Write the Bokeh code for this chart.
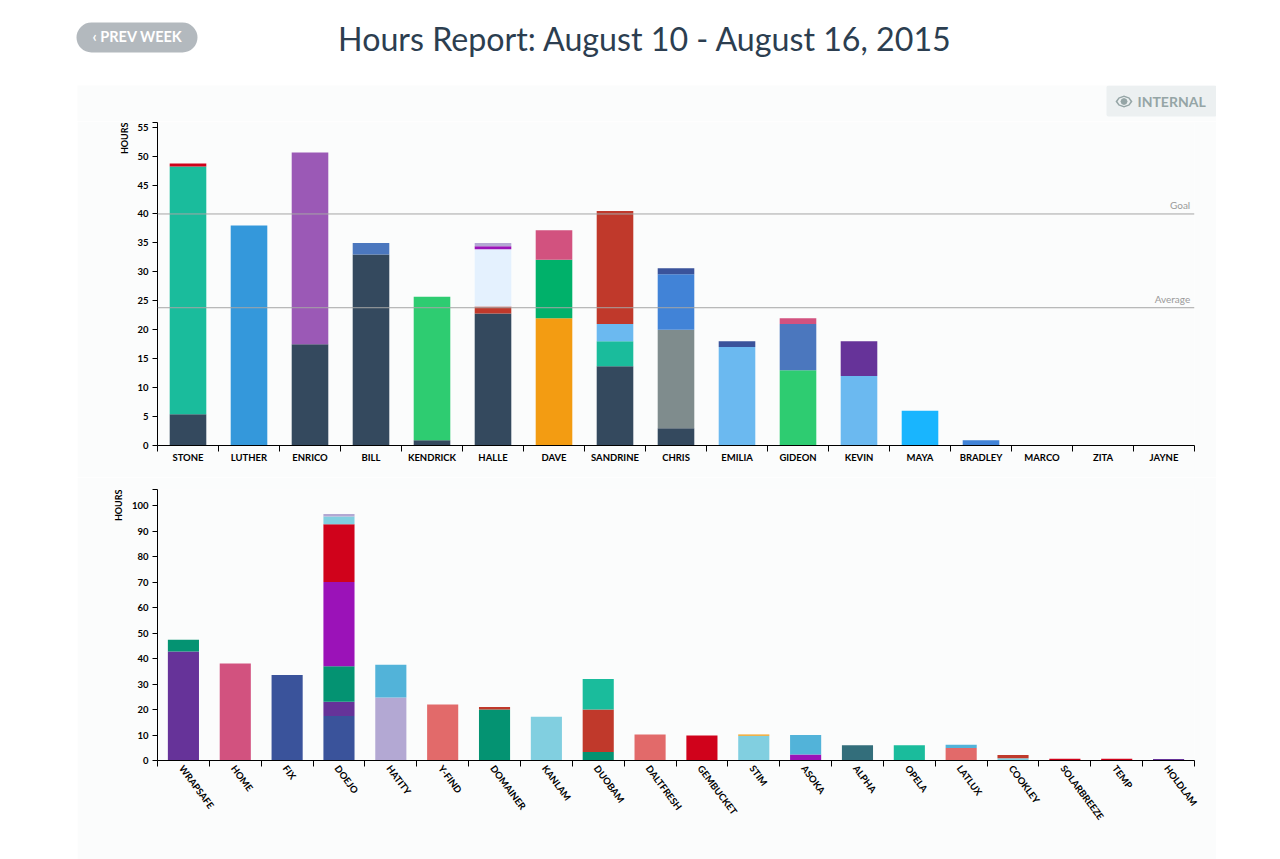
from bokeh.plotting import figure
from bokeh.layouts import column, row
from bokeh.models import (Range1d, FixedTicker, LinearAxis, Span, Label, BoxAnnotation, Title,
                          PolyAnnotation, ColumnDataSource, Spacer)
from bokeh.embed import file_html
from bokeh.resources import INLINE

DARK, TEAL, RED, BLUE, PURPLE, BLUE2, GREEN = "#34495e", "#1abc9c", "#d0021b", "#3498db", "#9b59b6", "#4b77be", "#2ecc71"
BRICK, PALE, VIOLET, LAV, ORANGE, GREEN2, PINK = "#c0392b", "#e4f1fe", "#9b12b8", "#b3a8d3", "#f39c12", "#00b16a", "#d2527f"
SKY, GRAY, BLUE3, NAVY, GRAPE, AZURE = "#6bb9f0", "#7f8c8d", "#4183d7", "#3a539b", "#663399", "#19b5fe"
SALMON, SEA, ICE, STEEL, SLATE = "#e26a6a", "#049372", "#81cfe0", "#52b3d9", "#336e7b"

people = ["STONE", "LUTHER", "ENRICO", "BILL", "KENDRICK", "HALLE", "DAVE", "SANDRINE", "CHRIS",
          "EMILIA", "GIDEON", "KEVIN", "MAYA", "BRADLEY", "MARCO", "ZITA", "JAYNE"]
people_hours = [
    [5.4, 42.8, 0.5], [38], [17.5, 33.1], [33, 2], [0.9, 24.8],
    [22.8, 1.2, 9.9, 0.5, 0.6], [22, 10.1, 5.1], [13.7, 4.3, 3, 19.5], [3, 17, 9.6, 1],
    [17, 1], [13, 8, 1], [12, 6], [6], [0.9], [], [], [],
]
people_colors = [
    [DARK, TEAL, RED], [BLUE], [DARK, PURPLE], [DARK, BLUE2], [DARK, GREEN],
    [DARK, BRICK, PALE, VIOLET, LAV], [ORANGE, GREEN2, PINK], [DARK, TEAL, SKY, BRICK], [DARK, GRAY, BLUE3, NAVY],
    [SKY, NAVY], [GREEN, BLUE2, PINK], [SKY, GRAPE], [AZURE], [BLUE3], [], [], [],
]
goal_hours = 40
average_hours = 23.8
people_ticks = list(range(0, 56, 5))
people_max = 55.8

projects = ["WRAPSAFE", "HOME", "FIX", "DOEJO", "HATITY", "Y-FIND", "DOMAINER", "KANLAM", "DUOBAM", "DALTFRESH",
            "GEMBUCKET", "STIM", "ASOKA", "ALPHA", "OPELA", "LATLUX", "COOKLEY", "SOLARBREEZE", "TEMP", "HOLDLAM"]
project_hours = [
    [42.8, 4.6], [38], [33.5], [17.5, 5.5, 14, 33, 22.7, 3, 1], [24.7, 12.9], [22], [20, 1], [17.2],
    [3.3, 16.7, 12], [10.2], [9.8], [9.7, 0.5], [2.4, 7.6], [6], [6], [4.9, 1.3], [0.9, 1.3], [0.7], [0.7], [0.6],
]
project_colors = [
    [GRAPE, SEA], [PINK], [NAVY], [NAVY, GRAPE, SEA, VIOLET, RED, ICE, LAV], [LAV, STEEL], [SALMON], [SEA, BRICK], [ICE],
    [SEA, BRICK, TEAL], [SALMON], [RED], [ICE, ORANGE], [VIOLET, STEEL], [SLATE], [TEAL], [SALMON, STEEL], [ICE, BRICK],
    [RED], [RED], [GRAPE],
]
project_ticks = list(range(0, 101, 10))
project_max = 106.3

title_text = "Hours Report: August 10 - August 16, 2015"
PANEL = "#fbfcfc"
FONT = "Lato"


def stacked(names, hours, colors, ticks, ymax, height, top, bottom, title_standoff, label_shift=0.0):
    p = figure(width=1139, height=height, x_range=Range1d(0, len(names)), y_range=Range1d(0, ymax),
               output_backend="svg", toolbar_location=None, x_axis_type=None, y_axis_type=None,
               min_border_left=80, min_border_right=22, min_border_top=top, min_border_bottom=bottom,
               background_fill_color=PANEL, border_fill_color=PANEL, outline_line_color=None)
    p.grid.visible = False
    xs, lows, highs, fills = [], [], [], []
    for i, (vals, cols) in enumerate(zip(hours, colors)):
        base = 0
        for v, c in zip(vals, cols):
            xs.append(i + 0.5)
            lows.append(base)
            highs.append(base + v)
            fills.append(c)
            base += v
    src = ColumnDataSource(dict(x=xs, bottom=lows, top=highs, color=fills))
    p.vbar(x="x", bottom="bottom", top="top", width=0.6, color="color", line_color=None, source=src)

    label_at = [i + 0.5 + label_shift for i in range(len(names))]
    xaxis = LinearAxis(
        ticker=FixedTicker(ticks=label_at, minor_ticks=list(range(len(names) + 1))),
        major_label_overrides=dict(zip(label_at, names)),
        major_tick_line_color=None, minor_tick_line_color="#000000", minor_tick_out=6, minor_tick_in=0,
        axis_line_color="#000000", major_label_text_font=FONT, major_label_text_font_size="9.5px",
        major_label_text_font_style="bold", major_label_text_color="#000000", major_label_standoff=0)
    p.add_layout(xaxis, "below")
    yaxis = LinearAxis(
        ticker=FixedTicker(ticks=ticks, minor_ticks=[ymax]),
        major_tick_out=5, major_tick_in=0, minor_tick_out=5, minor_tick_in=0, minor_tick_line_color="#000000",
        major_tick_line_color="#000000", axis_line_color="#000000", major_label_text_font=FONT,
        major_label_text_font_size="9.5px", major_label_text_font_style="bold", major_label_text_color="#000000",
        major_label_standoff=4)
    p.add_layout(yaxis, "left")
    p.add_layout(Title(text="HOURS", align="right", text_font=FONT, text_font_size="9px", text_font_style="bold",
                       text_color="#000000", standoff=title_standoff), "left")
    return p, xaxis


top_fig, _ = stacked(people, people_hours, people_colors, people_ticks, people_max, 356, 1, 32, 10)
bottom_fig, bottom_x = stacked(projects, project_hours, project_colors, project_ticks, project_max, 382, 12, 99, 10,
                               label_shift=-0.04)
bottom_x.major_label_orientation = -0.93

for val, name in [(goal_hours, "Goal"), (average_hours, "Average")]:
    top_fig.add_layout(Span(location=val, dimension="width", line_color="#a6a6a6", line_width=1))
    top_fig.add_layout(Label(x=16.93, y=val, text=name, text_align="right", text_baseline="bottom", y_offset=3,
                             text_font=FONT, text_font_size="10px", text_color="#9a9a9a"))

# Strip above the first chart, holding the "Internal" toggle
strip = figure(width=1139, height=36, x_range=Range1d(0, 1), y_range=Range1d(0, 1), output_backend="svg",
               toolbar_location=None, x_axis_type=None, y_axis_type=None, outline_line_color=None,
               min_border=0, background_fill_color=PANEL, border_fill_color=PANEL)
strip.grid.visible = False
strip.add_layout(BoxAnnotation(left=1029, right=1139, top=0, bottom=31, left_units="canvas", right_units="canvas",
                               top_units="canvas", bottom_units="canvas", fill_color="#ecf0f1", fill_alpha=1,
                               line_color=None, border_radius=2))
strip.add_layout(Label(x=1060, y=16, x_units="canvas", y_units="canvas", text="INTERNAL", text_font=FONT,
                       text_font_size="14px", text_font_style="bold", text_color="#95a5a6", text_baseline="middle"))
eye_x = [1038, 1041, 1046.5, 1052, 1055, 1052, 1046.5, 1041]
eye_y = [16, 12, 10, 12, 16, 20, 22, 20]
strip.add_layout(PolyAnnotation(xs=eye_x, ys=eye_y, xs_units="canvas", ys_units="canvas",
                                fill_color="#95a5a6", fill_alpha=1, line_color=None))
strip.add_layout(PolyAnnotation(xs=[1040, 1042, 1046.5, 1051, 1053, 1051, 1046.5, 1042],
                                ys=[16, 13, 11.5, 13, 16, 19, 20.5, 19], xs_units="canvas", ys_units="canvas",
                                fill_color="#ecf0f1", fill_alpha=1, line_color=None))
strip.add_layout(PolyAnnotation(xs=[1043, 1044, 1046.5, 1049, 1050, 1049, 1046.5, 1044],
                                ys=[16, 13.5, 12.5, 13.5, 16, 18.5, 19.5, 18.5], xs_units="canvas", ys_units="canvas",
                                fill_color="#95a5a6", fill_alpha=1, line_color=None))

header = figure(width=1280, height=85, x_range=Range1d(0, 1), y_range=Range1d(0, 1), output_backend="svg",
                toolbar_location=None, x_axis_type=None, y_axis_type=None, outline_line_color=None,
                min_border=0, background_fill_color="#ffffff", border_fill_color="#ffffff")
header.grid.visible = False
header.add_layout(BoxAnnotation(left=76, right=197, top=22, bottom=52, left_units="canvas", right_units="canvas",
                                top_units="canvas", bottom_units="canvas", fill_color="#b3b9be", fill_alpha=1,
                                line_color=None, border_radius=15))
header.add_layout(Label(x=137, y=36, x_units="canvas", y_units="canvas", text="\u2039 PREV WEEK", text_font=FONT,
                        text_font_size="14.5px", text_font_style="bold", text_color="#ffffff",
                        text_align="center", text_baseline="middle"))
header.add_layout(Label(x=645, y=38, x_units="canvas", y_units="canvas", text=title_text, text_font=FONT,
                        text_font_size="32.2px", text_color="#2c3e50", text_align="center", text_baseline="middle"))

charts = column(top_fig, bottom_fig)
page = column(header, row(Spacer(width=77, height=10), column(row(strip), charts)))
open("out.html", "w").write(file_html(page, INLINE))
